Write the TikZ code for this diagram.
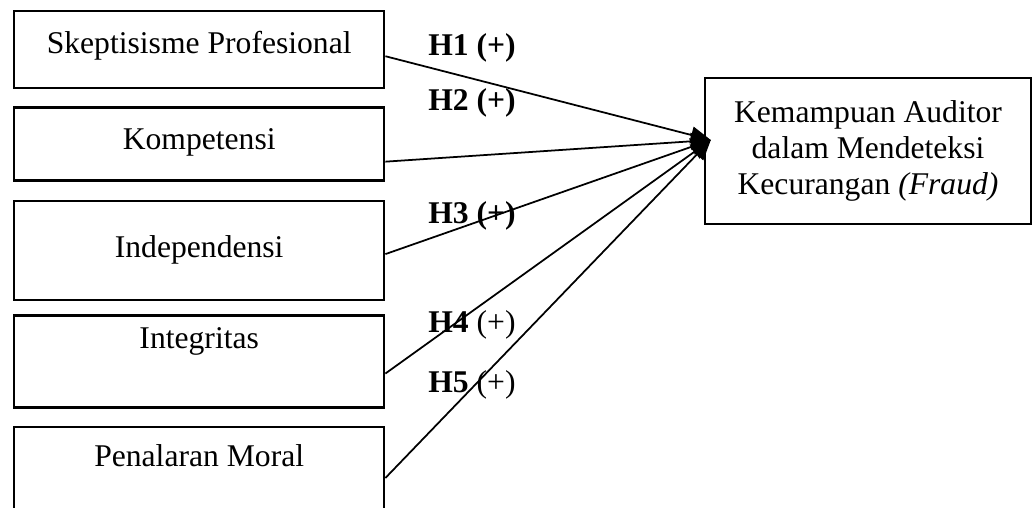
\documentclass[tikz,border=0pt]{standalone}
\usepackage{fontspec}
\setmainfont{Liberation Serif}
\usetikzlibrary{positioning,arrows.meta}

\begin{document}
\begin{tikzpicture}[x=0.02cm,y=-0.02cm,
            node distance=0.34cm,
            varbox/.style={rectangle,draw,line width=1.4pt,minimum width=7.4cm,inner sep=0pt,font=\fontsize{18}{20.4}\selectfont},
            hlabel/.style={anchor=base west,inner sep=0pt,font=\fontsize{18}{20.4}\selectfont},
            arrow/.style={-{Triangle[length=0.4cm,width=0.34cm]},line width=1pt}]
            \useasboundingbox (0,0) rectangle (1033,507);
            \node[varbox,anchor=north west,text height=0.84cm,text depth=0.7cm] (s1) at (13,10) {Skeptisisme Profesional};
            \node[varbox,below=of s1,text height=0.84cm,text depth=0.62cm] (s2) {Kompetensi};
            \node[varbox,below=0.36cm of s2,text height=1.12cm,text depth=0.86cm] (s3) {Independensi};
            \node[varbox,below=0.26cm of s3,text height=0.66cm,text depth=1.18cm] (s4) {Integritas};
            \node[varbox,below=of s4,text height=0.8cm,text depth=1.36cm] (s5) {Penalaran Moral};
            \node[varbox,minimum width=6.52cm,minimum height=2.92cm,align=center] (kad) at (868,151) {Kemampuan Auditor\\dalam Mendeteksi\\Kecurangan \textit{(Fraud)}};
            \node[hlabel] (h1) at (428,55) {\textbf{H1 (+)}};
            \node[hlabel] (h2) at (428,110) {\textbf{H2 (+)}};
            \node[hlabel] (h3) at (428,223) {\textbf{H3 (+)}};
            \node[hlabel] (h4) at (428,332) {\textbf{H4} (+)};
            \node[hlabel] (h5) at (428,392) {\textbf{H5} (+)};
            \draw[arrow] ([yshift=-0.13cm]s1.east) -- ([xshift=0.14cm,yshift=0.22cm]kad.west);
            \draw[arrow] ([yshift=-0.35cm]s2.east) -- ([xshift=0.14cm,yshift=0.22cm]kad.west);
            \draw[arrow] ([yshift=-0.07cm]s3.east) -- ([xshift=0.14cm,yshift=0.22cm]kad.west);
            \draw[arrow] ([yshift=-0.24cm]s4.east) -- ([xshift=0.14cm,yshift=0.22cm]kad.west);
            \draw[arrow] ([yshift=0.06cm]s5.east) -- ([xshift=0.14cm,yshift=0.22cm]kad.west);
        \end{tikzpicture}
\end{document}
